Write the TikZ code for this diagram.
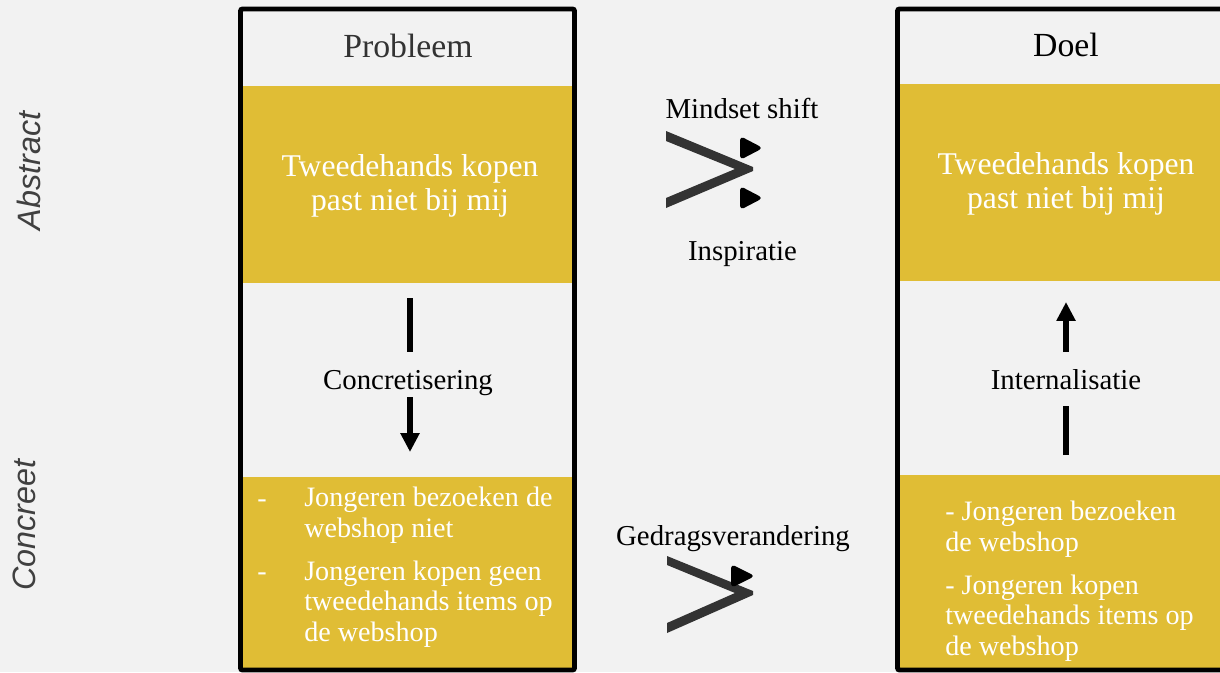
\documentclass[tikz,border=0pt]{standalone}
\usepackage{fontspec}
\setmainfont{Liberation Serif}
\newfontfamily\sidefont{Liberation Sans}
\usetikzlibrary{arrows.meta}
\definecolor{bggray}{HTML}{F2F2F2}
\definecolor{mustard}{HTML}{E0BD35}
\definecolor{chevgray}{HTML}{333333}
\definecolor{sidegray}{HTML}{404040}

\begin{document}
\begin{tikzpicture}[x=0.025cm,y=-0.025cm,
  colframe/.style={line width=3.5pt, rounded corners=1.5pt},
  band/.style={fill=mustard},
  headtext/.style={font=\fontsize{24}{26}\selectfont, inner sep=0pt},
  steptext/.style={font=\fontsize{20.5}{22}\selectfont, inner sep=0pt},
  bandtext/.style={font=\fontsize{22.5}{24}\selectfont, text=white, align=center, inner sep=0pt},
  listtext/.style={font=\fontsize{20}{21.6}\selectfont, text=white, align=left, inner sep=0pt},
  sidelabel/.style={font=\sidefont\itshape\fontsize{23}{25}\selectfont, text=sidegray, rotate=90, anchor=base, inner sep=0pt},
  bar/.style={line width=4.3pt},
  tiphead/.style={fill=black, rounded corners=3pt}]
\useasboundingbox (0,0) rectangle (1220,672);
\clip (0,0) rectangle (1220,672);
\fill[bggray] (0,0) rectangle (1220,672);
\fill[band] (240,86) rectangle (575,283);
\fill[band] (240,477) rectangle (575,670);
\fill[band] (898,84) rectangle (1230,281);
\fill[band] (898,475) rectangle (1230,670);
\draw[colframe] (240.5,9) rectangle (574.5,670);
\draw[colframe] (897.5,9) rectangle (1240,670);

\node[sidelabel] (abstract) at (40,171) {Abstract};
\node[sidelabel] (concreet) at (35,525) {Concreet};

\node[headtext, text=chevgray, anchor=base] (probleem) at (408,57) {Probleem};
\node[headtext, anchor=base] (doel) at (1066,56) {Doel};
\node[bandtext] (probAbs) at (410,186) {Tweedehands kopen\\past niet bij mij};
\node[bandtext] (doelAbs) at (1066,184) {Tweedehands kopen\\past niet bij mij};

\node[steptext, anchor=base] (concr) at (408,389) {Concretisering};
\coordinate (concrA) at (410,298);
\coordinate (concrB) at (410,352);
\coordinate (concrC) at (410,397);
\coordinate (concrD) at (410,452);
\draw[bar] (concrA) -- (concrB);
\draw[bar, -{Triangle[width=13pt,length=13.5pt]}] (concrC) -- (concrD);

\node[steptext, anchor=base] (intern) at (1066,389) {Internalisatie};
\coordinate (internA) at (1066,455);
\coordinate (internB) at (1066,406);
\coordinate (internC) at (1066,352);
\coordinate (internD) at (1066,302);
\draw[bar] (internA) -- (internB);
\draw[bar, -{Triangle[width=13pt,length=13.5pt]}] (internC) -- (internD);

\node[listtext, anchor=base] (dashA) at (262,507) {-};
\node[listtext, anchor=base west] (itemA) at (304,537) {Jongeren bezoeken de\\webshop niet};
\node[listtext, anchor=base] (dashB) at (262,580) {-};
\node[listtext, anchor=base west] (itemB) at (304,641) {Jongeren kopen geen\\tweedehands items op\\de webshop};
\node[listtext, anchor=base west] (goalA) at (945,551) {- Jongeren bezoeken\\de webshop};
\node[listtext, anchor=base west] (goalB) at (945,655) {- Jongeren kopen\\tweedehands items op\\de webshop};

\node[steptext, anchor=base] (mindset) at (742,118) {Mindset shift};
\node[steptext, anchor=base] (inspiratie) at (742.5,260) {Inspiratie};
\fill[chevgray] (666,131) -- (753,167) -- (753,171) -- (666,208) -- (666,198) -- (735,169) -- (666,141) -- cycle;
\fill[tiphead] (740,136) -- (763,148) -- (740,160) -- cycle;
\fill[tiphead] (740,186) -- (763,198) -- (740,210) -- cycle;

\node[steptext, anchor=base] (gedrag) at (733,545) {Gedragsverandering};
\fill[chevgray] (667,556) -- (753,591) -- (753,595) -- (667,633) -- (667,623) -- (735,593) -- (667,565) -- cycle;
\fill[tiphead] (731,564) -- (755,576) -- (731,588) -- cycle;
\end{tikzpicture}
\end{document}
